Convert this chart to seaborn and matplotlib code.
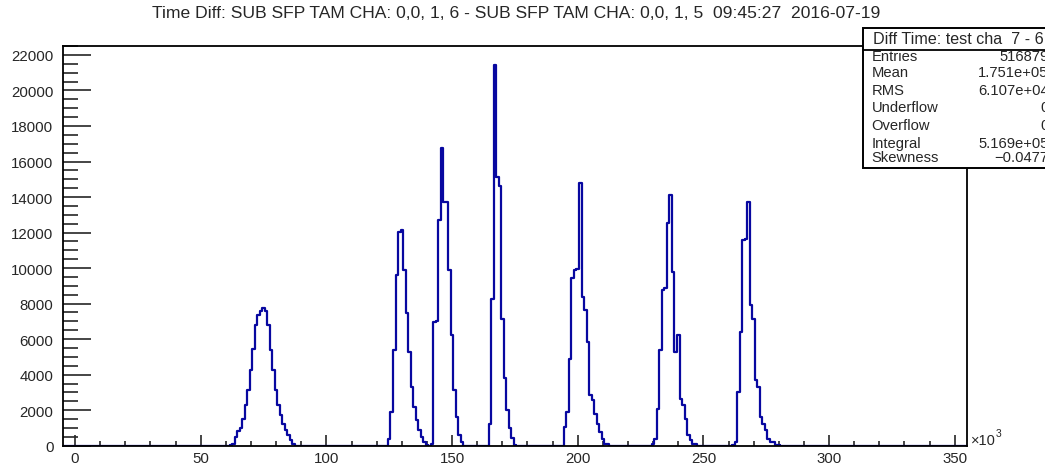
import numpy as np
import pandas as pd
import matplotlib
matplotlib.use("Agg")
import matplotlib.pyplot as plt
from matplotlib.patches import Rectangle
from matplotlib.lines import Line2D
from matplotlib.ticker import MultipleLocator, FixedLocator
import seaborn as sns

# ---------------- data ----------------
title = "Time Diff: SUB SFP TAM CHA: 0,0, 1, 6 - SUB SFP TAM CHA: 0,0, 1, 5  09:45:27  2016-07-19"
x_range = (-5, 355)           # in units of 10^3
x_tick_values = [0, 50, 100, 150, 200, 250, 300, 350]
y_tick_values = [0, 2000, 4000, 6000, 8000, 10000, 12000, 14000, 16000, 18000, 20000, 22000]

peak1_start = 62
peak1_counts = [50, 113, 490, 810, 1000, 1520, 2270, 3120, 4250, 5470, 6790, 7350, 7580,
                7770, 7580, 6790, 5380, 4250, 3120, 2270, 1710, 1240, 870, 580, 300, 110]
peak2_start = 125
peak2_counts = [400, 1900, 5380, 9610, 12050, 12150, 9890, 7450, 5280, 3310, 2180, 1430,
                870, 490, 210, 50]
peak3_start = 142
peak3_counts = [100, 6950, 7000, 12710, 16750, 13740, 13700, 9890, 6220, 3120, 1620, 580, 210]
peak4_start = 165
peak4_counts = [1200, 8250, 21450, 15100, 14600, 7150, 3800, 2000, 1000, 450, 50]
peak5_start = 195
peak5_counts = [1050, 1900, 4900, 9420, 9890, 9950, 14780, 8390, 7630, 5850, 2840, 2560,
                1810, 1240, 770, 400, 110, 110]
peak6_start = 230
peak6_counts = [100, 400, 2090, 5380, 8760, 8860, 12520, 14120, 9800, 5280, 6220, 2650,
                2280, 1520, 580, 300, 110, 110]
peak7_start = 262
peak7_counts = [50, 200, 3030, 6410, 11580, 11650, 13740, 7920, 7160, 3690, 3310, 1620,
                1240, 870, 400, 200, 200, 50, 50]

stats_title = "Diff Time: test cha  7 - 6"
stats_labels = ["Entries", "Mean", "RMS", "Underflow", "Overflow", "Integral", "Skewness"]
stats_values = ["516879", "1.751e+05", "6.107e+04", "0", "0", "5.169e+05", "\u22120.0477"]

# ---------------- build histogram table ----------------
centers = np.arange(x_range[0], x_range[1] + 1)
counts = np.zeros(len(centers))
for start, vals in [(peak1_start, peak1_counts), (peak2_start, peak2_counts),
                    (peak3_start, peak3_counts), (peak4_start, peak4_counts),
                    (peak5_start, peak5_counts), (peak6_start, peak6_counts),
                    (peak7_start, peak7_counts)]:
    i0 = start - x_range[0]
    counts[i0:i0 + len(vals)] = vals
df = pd.DataFrame({"time": centers, "count": counts})

# ---------------- style ----------------
sns.set_style("ticks")
plt.rcParams["font.family"] = ["Liberation Sans", "DejaVu Sans"]

W, H = 1045, 464
fig = plt.figure(figsize=(W / 100, H / 100), dpi=100)
fig.patch.set_facecolor("white")

def fx(px):
    return px / W

def fy(py):
    return 1 - py / H

ax_l, ax_r, ax_t, ax_b = 62.5, 967.3, 46.7, 446.7
ax = fig.add_axes([fx(ax_l), fy(ax_b), fx(ax_r - ax_l), (ax_b - ax_t) / H])

sns.histplot(data=df, x="time", weights="count", binwidth=1,
             binrange=(x_range[0] - 0.5, x_range[1] + 0.5), element="step",
             fill=False, color="#0808a0", linewidth=1.6, ax=ax)

ax.set_xlim(*x_range)
ax.set_ylim(0, 22520)
ax.set_xlabel("")
ax.set_ylabel("")

for s in ax.spines.values():
    s.set_visible(True)
    s.set_linewidth(1.3)
    s.set_color("black")
    s.set_zorder(3)

ax.xaxis.set_major_locator(FixedLocator(x_tick_values))
ax.xaxis.set_minor_locator(MultipleLocator(10))
ax.yaxis.set_major_locator(FixedLocator(y_tick_values))
ax.yaxis.set_minor_locator(MultipleLocator(500))
ax.set_xticklabels([str(v) for v in x_tick_values])
ax.set_yticklabels([str(v) for v in y_tick_values])

ax.tick_params(axis="x", which="major", direction="in", length=8, width=1.2,
               labelsize=10.8, pad=3.5, top=False)
ax.tick_params(axis="x", which="minor", direction="in", length=3.6, width=1.2, top=False)
ax.tick_params(axis="y", which="major", direction="in", length=20.5, width=1.2,
               labelsize=10.8, pad=6.5, right=False)
ax.tick_params(axis="y", which="minor", direction="in", length=11, width=1.2, right=False)

# exponent marker
fig.text(fx(971), fy(441), "\u00d710", fontsize=10.5, ha="left", va="center")
fig.text(fx(996), fy(434), "3", fontsize=7.5, ha="left", va="center")

# title
fig.text(fx(516), fy(13), title, fontsize=12.6, ha="center", va="center")

# stats box
bx0, bx1, by0, by1, bsep = 863, 1070, 28.5, 168.5, 50.5
fig.add_artist(Rectangle((fx(bx0), fy(by1)), fx(bx1 - bx0), (by1 - by0) / H,
                         transform=fig.transFigure, facecolor="white",
                         edgecolor="black", linewidth=1.4, zorder=5))
fig.add_artist(Line2D([fx(bx0), fx(bx1)], [fy(bsep), fy(bsep)],
                      transform=fig.transFigure, color="black", linewidth=1.3, zorder=6))
fig.text(fx(873), fy(39.5), stats_title, fontsize=11.6, ha="left", va="center", zorder=7)
row_y = [57.3, 73.3, 91.0, 108.3, 125.8, 144.0, 158.3]
for lab, val, yy in zip(stats_labels, stats_values, row_y):
    fig.text(fx(871.5), fy(yy), lab, fontsize=10.6, ha="left", va="center", zorder=7)
    fig.text(fx(1048.5), fy(yy), val, fontsize=10.6, ha="right", va="center", zorder=7)

fig.savefig("out.png", dpi=100, facecolor="white")
